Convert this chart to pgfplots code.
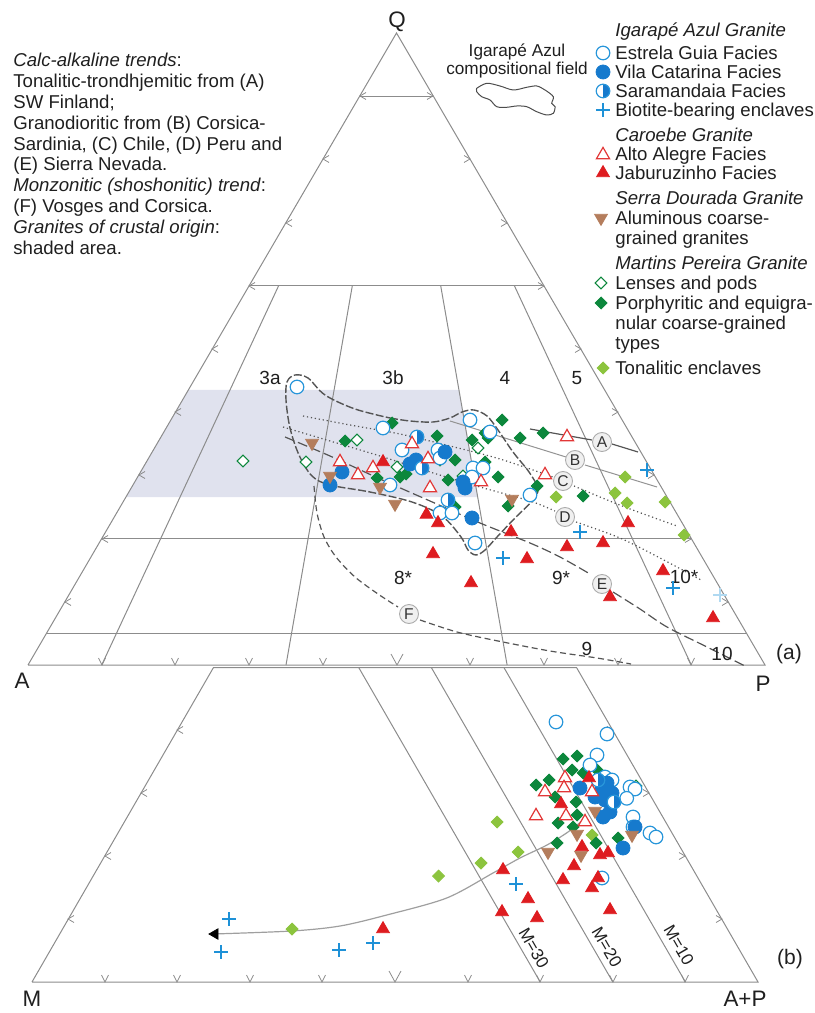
\documentclass[border=0pt]{standalone}
\usepackage{fontspec}
\setmainfont{Liberation Sans}
\usepackage{pgfplots}
\pgfplotsset{compat=1.18}
\definecolor{estrela}{RGB}{40,150,218}
\definecolor{vila}{RGB}{22,122,205}
\definecolor{plusc}{RGB}{30,145,215}
\definecolor{redc}{RGB}{222,28,32}
\definecolor{redo}{RGB}{226,55,55}
\definecolor{brownc}{RGB}{180,125,92}
\definecolor{dkgreen}{RGB}{12,135,60}
\definecolor{ltgreen}{RGB}{140,196,62}
\definecolor{shade}{RGB}{224,226,238}
\definecolor{lgray}{RGB}{140,140,140}
\definecolor{dgray}{RGB}{85,85,85}
\pgfdeclareplotmark{halfcirc}{%
  \begin{pgfscope}%
  \pgfsetfillcolor{white}%
  \pgfpathcircle{\pgfpointorigin}{\pgfplotmarksize}\pgfusepathqfill
  \pgfsetfillcolor{vila}%
  \pgfpathmoveto{\pgfqpoint{0pt}{\pgfplotmarksize}}%
  \pgfpatharc{90}{-90}{\pgfplotmarksize}%
  \pgfpathclose\pgfusepathqfill
  \pgfsetstrokecolor{estrela}%
  \pgfpathcircle{\pgfpointorigin}{\pgfplotmarksize}\pgfusepathqstroke
  \end{pgfscope}%
}
\pgfplotsset{
 estrelaS/.style={only marks, mark=*, mark size=3.4bp, mark options={draw=estrela, fill=white, line width=0.6bp}},
 vilaS/.style={only marks, mark=*, mark size=3.5bp, mark options={draw=vila, fill=vila}},
 saraS/.style={only marks, mark=halfcirc, mark size=3.4bp, mark options={line width=0.6bp}},
 plusS/.style={only marks, mark=+, mark size=3.5bp, mark options={draw=plusc, line width=0.8bp}},
 altoS/.style={only marks, mark=triangle*, mark size=3.8bp, mark options={draw=redo, fill=white, line width=0.6bp}},
 jabS/.style={only marks, mark=triangle*, mark size=3.7bp, mark options={draw=redc, fill=redc}},
 serraS/.style={only marks, mark=triangle*, mark size=3.7bp, mark options={draw=brownc, fill=brownc, rotate=180}},
 lensS/.style={only marks, mark=square*, mark size=2.1bp, mark options={draw=dkgreen, fill=white, rotate=45, line width=0.55bp}},
 porS/.style={only marks, mark=square*, mark size=2.1bp, mark options={draw=dkgreen, fill=dkgreen, rotate=45}},
 tonS/.style={only marks, mark=square*, mark size=2.1bp, mark options={draw=ltgreen, fill=ltgreen, rotate=45}},
 frame/.style={no markers, draw=lgray, line width=0.5bp},
}
\newcommand\fa{\fontsize{9.3bp}{11bp}\selectfont}
\newcommand\fb{\fontsize{11.2bp}{13bp}\selectfont}
\newcommand\fc{\fontsize{9.5bp}{11bp}\selectfont}
\tikzset{circlab/.style={circle, draw=gray!65, fill=gray!12, inner sep=0pt, minimum size=9.5bp, line width=0.45bp, font=\fontsize{7.8bp}{8bp}\selectfont, text=black!80}}
\begin{document}
\begin{tikzpicture}
\begin{axis}[
  x=0.5bp, y=0.5bp, y dir=reverse,
  xmin=0, xmax=814, ymin=0, ymax=1013,
  hide axis, clip=false, unbounded coords=jump,
]
\coordinate (bbtl) at (axis cs:0,0);
\coordinate (bbbr) at (axis cs:814,1013);
% shaded area (granites of crustal origin)
\addplot[draw=none, fill=shade] coordinates {(188.3,390) (458.9,390) (477.6,497) (125.9,497) (188.3,390)};
% upper triangle frame
\addplot[frame] coordinates {(28,665) (396.5,33) (765,665) (28,665)};
\addplot[frame] coordinates {(359.7,96.2) (433.4,96.2) (nan,nan) (249.1,285.8) (543.9,285.8) (nan,nan) (101.7,538.6) (691.3,538.6) (nan,nan) (46.4,633.4) (746.6,633.4)};
\addplot[frame] coordinates {(278.6,285.8) (101.7,665) (nan,nan) (352.3,285.8) (286,665) (nan,nan) (440.7,285.8) (507.1,665) (nan,nan) (514.4,285.8) (691.3,665)};
% lower triangle frame
\addplot[frame] coordinates {(32,982) (213.5,667.5) (576.5,667.5) (758,982) (32,982)};
\addplot[frame] coordinates {(358.7,667.5) (540.2,982) (nan,nan) (431.3,667.5) (612.8,982) (nan,nan) (503.9,667.5) (685.4,982)};
% ticks
\addplot[frame, line width=0.4bp] coordinates {
(71,598.5) (65,602) (71,605.5) (nan,nan)
(108,535.5) (102,539) (108,542.5) (nan,nan)
(145,471.5) (139,475) (145,478.5) (nan,nan)
(181,408.5) (175,412) (181,415.5) (nan,nan)
(218,345.5) (212,349) (218,352.5) (nan,nan)
(255,282.5) (249,286) (255,289.5) (nan,nan)
(292,219.5) (286,223) (292,226.5) (nan,nan)
(329,155.5) (323,159) (329,162.5) (nan,nan)
(366,92.5) (360,96) (366,99.5) (nan,nan)
(722,598.5) (728,602) (722,605.5) (nan,nan)
(685,535.5) (691,539) (685,542.5) (nan,nan)
(648,471.5) (654,475) (648,478.5) (nan,nan)
(612,408.5) (618,412) (612,415.5) (nan,nan)
(575,345.5) (581,349) (575,352.5) (nan,nan)
(538,282.5) (544,286) (538,289.5) (nan,nan)
(501,219.5) (507,223) (501,226.5) (nan,nan)
(464,155.5) (470,159) (464,162.5) (nan,nan)
(427,92.5) (433,96) (427,99.5) (nan,nan)
(98.5,658) (102,665) (105.5,658) (nan,nan)
(171.5,658) (175,665) (178.5,658) (nan,nan)
(245.5,658) (249,665) (252.5,658) (nan,nan)
(319.5,658) (323,665) (326.5,658) (nan,nan)
(391,654) (397,665) (403,654) (nan,nan)
(466.5,658) (470,665) (473.5,658) (nan,nan)
(540.5,658) (544,665) (547.5,658) (nan,nan)
(614.5,658) (618,665) (621.5,658) (nan,nan)
(687.5,658) (691,665) (694.5,658) (nan,nan)
(74,915.5) (68,919) (74,922.5) (nan,nan)
(111,852.5) (105,856) (111,859.5) (nan,nan)
(147,789.5) (141,793) (147,796.5) (nan,nan)
(183,726.5) (177,730) (183,733.5) (nan,nan)
(716,915.5) (722,919) (716,922.5) (nan,nan)
(679,852.5) (685,856) (679,859.5) (nan,nan)
(643,789.5) (649,793) (643,796.5) (nan,nan)
(607,726.5) (613,730) (607,733.5) (nan,nan)
(101.5,975) (105,982) (108.5,975) (nan,nan)
(173.5,975) (177,982) (180.5,975) (nan,nan)
(246.5,975) (250,982) (253.5,975) (nan,nan)
(318.5,975) (322,982) (325.5,975) (nan,nan)
(389,971) (395,982) (401,971) (nan,nan)
(464.5,975) (468,982) (471.5,975) (nan,nan)
(536.5,975) (540,982) (543.5,975) (nan,nan)
(609.5,975) (613,982) (616.5,975) (nan,nan)
(681.5,975) (685,982) (688.5,975)};
% trends
\addplot[no markers, draw=dgray, line width=0.6bp] coordinates {(530,429) (592,440) (nan,nan) (612,444) (638,452)};
\addplot[no markers, draw=gray!85, line width=0.5bp] coordinates {(450,421) (566,457) (nan,nan) (585,465) (657,487)};
\addplot[no markers, smooth, draw=dgray, line width=0.6bp, dash pattern=on 0.6bp off 1.4bp] coordinates {(303,416) (350,425) (400,434) (450,446) (500,459) (553,477)};
\addplot[no markers, smooth, draw=dgray, line width=0.6bp, dash pattern=on 0.6bp off 1.4bp] coordinates {(574,486) (600,497) (630,509) (677,526)};
\addplot[no markers, smooth, draw=dgray, line width=0.6bp, dash pattern=on 0.6bp off 1.4bp] coordinates {(283,427) (330,441) (380,456) (430,472) (480,487) (530,501) (555,511)};
\addplot[no markers, smooth, draw=dgray, line width=0.6bp, dash pattern=on 0.6bp off 1.4bp] coordinates {(576,522) (620,538) (660,558) (701,580)};
\addplot[no markers, smooth, draw=dgray, line width=0.6bp, dash pattern=on 5bp off 2bp] coordinates {(285,437) (330,456) (380,479) (430,501) (480,523) (530,543) (560,557) (590,574)};
\addplot[no markers, smooth, draw=dgray, line width=0.6bp, dash pattern=on 5bp off 2bp] coordinates {(613,592) (640,609) (667,627) (707,647) (747,667)};
\addplot[no markers, smooth, draw=dgray, line width=0.6bp, dash pattern=on 3bp off 1.8bp] coordinates {(314,486) (317,513) (324,537) (336,557) (355,577) (378,594) (398,607)};
\addplot[no markers, smooth, draw=dgray, line width=0.6bp, dash pattern=on 3bp off 1.8bp] coordinates {(420,620) (457,632) (498,641) (550,651) (597,658) (631,664)};
% Igarape Azul compositional field
\addplot[no markers, smooth, tension=0.55, draw=dgray, line width=0.7bp, dash pattern=on 4bp off 1.2bp] coordinates {
(390,418) (410,421) (433,422) (450,418) (462,412) (474,410) (487,416) (498,430) (513,452) (529,472) (538,489) (532,501) (515,518) (497,537) (485,550) (476,555) (468,550) (461,537) (442,516) (412,502) (370,492) (330,485) (312,476) (299,455) (290,428) (286,400) (287,382) (295,375) (308,378) (325,395) (355,409) (390,418)};
% inset blob
\addplot[no markers, smooth, tension=0.5, draw=black!70, line width=0.5bp] coordinates {
(476.7,88.3) (486.7,83.3) (500,86) (513.3,90) (526.7,87.3) (536.7,86) (545,90) (553.3,96.7) (551.7,103.3) (555,106.7) (553.3,113.3) (546.7,115) (536.7,111.7) (526.7,106.7) (516.7,106) (506.7,107.3) (496.7,106.7) (490,100) (481.7,96.7) (476.7,91.7) (476.7,88.3)};
% lower curve
\addplot[no markers, smooth, draw=gray!75, line width=0.6bp] coordinates {(213,934) (291.7,931) (340,926) (386.7,915) (446.7,898) (493,873) (520,858) (547,845) (568,832) (583,820)};
\addplot[only marks, mark=triangle*, mark size=3bp, mark options={black, rotate=90}] coordinates {(215,934)};
% ===== data: upper (QAP) and lower (M-Q-A+P) =====
\addplot[tonS] coordinates {(556,497) (625,477) (615,493) (627,503) (665,502) (684,535)
 (292,929) (438.5,876) (481,863) (497,822) (518,852) (592,835)};
\addplot[porS] coordinates {(345,441) (392,423) (377,478) (400,477) (406,474) (437,436) (438,453) (455,460) (448,480) (485,462) (498,477) (472,440) (485,433) (488,438) (502,420) (520,438) (543,433) (537,486) (508,506) (455,507) (583,496)
 (563,759) (577,756) (572,770) (583,773) (597,770) (536,785) (549,780) (555,797) (576,802) (577,815) (558,823) (573,827) (557,843) (596,843) (618,838) (612,803)};
\addplot[lensS] coordinates {(243,461) (306,462) (357,440) (397,467) (440,460) (463,476) (478,448) (636,786)};
\addplot[estrelaS] coordinates {(297,387) (383,428) (390,485) (402,450) (438,450) (440,458) (440,513) (452,513) (470,420) (473,468) (483,468) (472,477) (530,495) (475,543) (490,432)
 (556,722) (607,734) (597,755) (590,765) (605,777) (612,780) (630,787) (635,789) (626.7,798.3) (633,817) (633,827) (650,833) (656,837) (602,878)};
\addplot[vilaS] coordinates {(342,472) (330,485) (410,464) (416,460) (445,452) (465,488) (463,482) (472,518)
 (580,788) (602,788) (607,783) (612,793) (605,800) (595,797) (610,812) (603,817) (608,795) (635,827) (623,848)};
\addplot[saraS] coordinates {(417,437) (422,468) (448,500) (598,780) (614,802)};
\addplot[serraS] coordinates {(312,443) (330,476) (380,487) (395,504) (512,499)
 (548,852) (577,834) (581,855) (595,811) (632,835)};
\addplot[altoS] coordinates {(340,462) (358,475) (373,468) (412,444) (428,459) (430,488) (481,482) (545,475) (567,437)
 (545,792) (565,778) (564,788) (592,792) (536,816) (566,816) (585,822)};
\addplot[jabS] coordinates {(383,462) (426.5,514.5) (438,523) (433,554) (511,532) (527,559) (567,547) (603,543) (628,523) (471,583) (663,571) (610,597) (713,618)
 (589,778) (561,804) (383,929) (503,870) (528,899) (502,912) (537,918) (582,847) (600,855) (608,853) (574,866) (563,880) (592,888) (598,878) (610,910)};
\addplot[plusS] coordinates {(647,470) (580,532) (503,558) (673,588)
 (229,919) (221,952) (339,950) (373,943) (516,884)};
\addplot[only marks, mark=+, mark size=3.5bp, mark options={draw=plusc!35, line width=0.8bp}] coordinates {(720,595)};
% ===== legend symbols =====
\addplot[estrelaS] coordinates {(603,53)};
\addplot[vilaS] coordinates {(603,72)};
\addplot[saraS] coordinates {(603,91)};
\addplot[plusS] coordinates {(603,110)};
\addplot[altoS] coordinates {(603,155)};
\addplot[jabS] coordinates {(603,173)};
\addplot[serraS] coordinates {(601,218)};
\addplot[lensS] coordinates {(601,283)};
\addplot[porS] coordinates {(601,303)};
\addplot[tonS] coordinates {(603,368)};
% ===== texts =====
\begin{scope}[every node/.style={inner sep=0pt, font=\fa, anchor=base west, text=black!88}]
\node at (axis cs:13,66.5) {\textit{Calc-alkaline trends}:};
\node at (axis cs:13,87.4) {Tonalitic-trondhjemitic from (A)};
\node at (axis cs:13,108.3) {SW Finland;};
\node at (axis cs:13,129.2) {Granodioritic from (B) Corsica-};
\node at (axis cs:13,150.1) {Sardinia, (C) Chile, (D) Peru and};
\node at (axis cs:13,171) {(E) Sierra Nevada.};
\node at (axis cs:13,191.9) {\textit{Monzonitic (shoshonitic) trend}:};
\node at (axis cs:13,212.8) {(F) Vosges and Corsica.};
\node at (axis cs:13,233.7) {\textit{Granites of crustal origin}:};
\node at (axis cs:13,254.6) {shaded area.};
\node at (axis cs:615,36.7) {\textit{Igarapé Azul Granite}};
\node at (axis cs:615,59.7) {Estrela Guia Facies};
\node at (axis cs:615,78.7) {Vila Catarina Facies};
\node at (axis cs:615,97.7) {Saramandaia Facies};
\node at (axis cs:615,116.7) {Biotite-bearing enclaves};
\node at (axis cs:615,141.7) {\textit{Caroebe Granite}};
\node at (axis cs:615,160.7) {Alto Alegre Facies};
\node at (axis cs:615,179.7) {Jaburuzinho Facies};
\node at (axis cs:615,204.7) {\textit{Serra Dourada Granite}};
\node at (axis cs:615,224.7) {Aluminous coarse-};
\node at (axis cs:615,244.7) {grained granites};
\node at (axis cs:615,269.7) {\textit{Martins Pereira Granite}};
\node at (axis cs:615,289.7) {Lenses and pods};
\node at (axis cs:615,309.7) {Porphyritic and equigra-};
\node at (axis cs:615,329.7) {nular coarse-grained};
\node at (axis cs:615,349.7) {types};
\node at (axis cs:615,374.7) {Tonalitic enclaves};
\end{scope}
\begin{scope}[every node/.style={inner sep=0pt, anchor=base, text=black!88}]
\node[font=\fontsize{8.6bp}{10bp}\selectfont] at (axis cs:517,56.2) {Igarapé Azul};
\node[font=\fontsize{8.6bp}{10bp}\selectfont] at (axis cs:517,74.2) {compositional field};
\node[font=\fb] at (axis cs:397,28) {Q};
\node[font=\fb] at (axis cs:22,688) {A};
\node[font=\fb] at (axis cs:763,691) {P};
\node[font=\fb] at (axis cs:32,1006) {M};
\node[font=\fb] at (axis cs:745,1006) {A+P};
\node[font=\fontsize{10.5bp}{12bp}\selectfont] at (axis cs:789,659) {(a)};
\node[font=\fontsize{10.5bp}{12bp}\selectfont] at (axis cs:790,964) {(b)};
\node[font=\fc] at (axis cs:270,385) {3a};
\node[font=\fc] at (axis cs:393,385) {3b};
\node[font=\fc] at (axis cs:505,385) {4};
\node[font=\fc] at (axis cs:577,385) {5};
\node[font=\fc] at (axis cs:403,584) {8*};
\node[font=\fc] at (axis cs:561,584) {9*};
\node[font=\fc] at (axis cs:684,583) {10*};
\node[font=\fc] at (axis cs:587,655) {9};
\node[font=\fc] at (axis cs:722,660) {10};
\end{scope}
\node[circlab] at (axis cs:602,442) {A};
\node[circlab] at (axis cs:575,460) {B};
\node[circlab] at (axis cs:563,481) {C};
\node[circlab] at (axis cs:565,517) {D};
\node[circlab] at (axis cs:602,584) {E};
\node[circlab] at (axis cs:409,614) {F};
\node[rotate=-60, inner sep=0pt, font=\fontsize{8.5bp}{9bp}\selectfont, text=black!88] at (axis cs:534,948) {M=30};
\node[rotate=-60, inner sep=0pt, font=\fontsize{8.5bp}{9bp}\selectfont, text=black!88] at (axis cs:607,947) {M=20};
\node[rotate=-60, inner sep=0pt, font=\fontsize{8.5bp}{9bp}\selectfont, text=black!88] at (axis cs:679,945) {M=10};
\end{axis}
\pgfresetboundingbox
\path[use as bounding box] (bbtl) rectangle (bbbr);
\end{tikzpicture}
\end{document}
